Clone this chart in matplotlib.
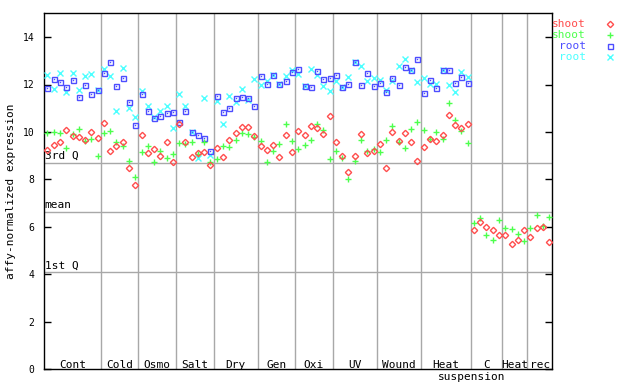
import numpy as np
import matplotlib
matplotlib.use("Agg")
import matplotlib.pyplot as plt

groups = ["Cont", "Cold", "Osmo", "Salt", "Dry", "Gen", "Oxi", "UV", "Wound", "Heat", "C", "Heat", "rec"]
group_sizes = [9, 6, 6, 6, 7, 6, 6, 7, 7, 8, 5, 4, 4]

shoot_a = [9.22, 9.45, 9.57, 10.09, 9.83, 9.78, 9.66, 10.0, 9.76,
           10.37, 9.19, 9.4, 9.57, 8.48, 7.76,
           9.87, 9.11, 9.28, 8.98, 9.57, 8.73,
           10.33, 9.57, 8.94, 9.11, 9.15, 8.6,
           9.32, 8.94, 9.66, 9.95, 10.21, 10.21, 9.83,
           9.4, 9.23, 9.45, 8.94, 9.87, 9.15,
           10.04, 9.87, 10.25, 10.16, 9.91, 10.67,
           9.57, 8.98, 8.31, 8.98, 9.91, 9.11, 9.19,
           9.49, 8.48, 9.99, 9.62, 9.95, 9.57, 8.77,
           9.36, 9.7, 9.62, 9.87, 10.71, 10.29, 10.16, 10.33,
           5.86, 6.2, 5.99, 5.86, 5.65,
           5.65, 5.27, 5.44, 5.86,
           5.57, 5.95, 5.99, 5.36]
shoot_b = [9.95, 9.99, 9.95, 9.32, 9.91, 10.14, 9.62, 9.7, 9.0,
           9.95, 10.04, 9.57, 9.4, 8.77, 8.1,
           9.15, 9.4, 8.73, 9.19, 8.9, 9.07,
           9.53, 9.49, 9.57, 9.07, 9.57, 8.73,
           8.86, 9.4, 9.36, 9.66, 9.95, 9.91, 9.78,
           9.62, 8.73, 9.19, 9.49, 10.33, 9.62,
           9.28, 9.45, 9.66, 10.33, 10.08, 8.86,
           9.19, 8.9, 8.01, 8.77, 9.66, 9.19, 9.28,
           9.15, 9.66, 10.25, 9.57, 9.32, 10.12, 10.42,
           10.08, 9.7, 9.99, 9.7, 11.22, 10.5, 10.04, 9.53,
           6.16, 6.37, 5.65, 5.44, 6.28,
           5.95, 5.9, 5.69, 5.4,
           5.95, 6.49, 6.03, 6.41]
nan = np.nan
root_a = [11.85, 12.23, 12.1, 11.89, 12.19, 11.47, 11.98, 11.6, 11.78,
          12.48, 12.95, 11.94, 12.27, 11.26, 10.29,
          11.6, 10.88, 10.59, 10.67, 10.8, 10.84,
          10.42, 10.88, 9.99, 9.87, 9.74, 9.19,
          11.51, 10.84, 11.01, 11.43, 11.47, 11.43, 11.09,
          12.36, 12.02, 12.4, 12.02, 12.14, 12.53,
          12.65, 11.94, 11.89, 12.57, 12.23, 12.27,
          12.4, 11.89, 12.02, 12.95, 11.98, 12.48, 11.94,
          12.06, 11.68, 12.27, 11.98, 12.74, 12.61, 13.07,
          11.64, 12.19, 11.85, 12.61, 12.61, 12.06, 12.31, 12.06] + [nan] * 13
root_b = [12.41, 11.81, 12.48, 11.67, 12.48, 11.75, 12.36, 12.46, 11.78,
          12.65, 12.36, 10.88, 12.69, 11.01, 10.63,
          11.72, 11.09, 10.63, 10.88, 11.09, 10.16,
          11.6, 11.09, 9.99, 8.9, 11.43, 9.02,
          11.3, 10.33, 11.51, 11.26, 11.81, 11.34, 12.23,
          11.98, 12.14, 12.4, 12.02, 12.36, 12.61,
          12.44, 11.94, 12.65, 12.4, 11.94, 11.72,
          12.14, 11.89, 12.31, 12.95, 12.78, 12.14, 12.27,
          12.19, 11.77, 12.14, 12.78, 13.07, 12.61, 12.1,
          12.27, 12.02, 12.02, 12.61, 11.98, 11.68, 12.53, 12.31] + [nan] * 13

quartiles = {"3rd Q": 8.69, "mean": 6.62, "1st Q": 4.09}

RED, GREEN, BLUE, CYAN = "#ff4d4d", "#4dff4d", "#4d4dff", "#4dffff"
FONT = "DejaVu Sans Mono"

fig = plt.figure(figsize=(6.4, 3.84), dpi=100)
ax = fig.add_axes([44.3 / 640, 1 - 369.3 / 384, 508 / 640, 356 / 384])

x = np.arange(len(shoot_a))
n = len(x)

edges = np.cumsum(group_sizes)
for e in edges[:-1]:
    ax.axvline(e - 0.5, color="#a8a8a8", lw=1, zorder=1)
for name, val in quartiles.items():
    ax.axhline(val, color="#a8a8a8", lw=1, zorder=1)
    ax.text(-0.45, val + 0.08, name, fontsize=8, family=FONT, ha="left", va="bottom")

style = dict(ls="none", mfc="none", mew=1, zorder=3)
ax.plot(x, root_b, marker="x", ms=4, color=CYAN, **style)
ax.plot(x, root_a, marker="s", ms=3.6, color=BLUE, **style)
# little dot in the middle of the root squares
ax.plot(x, root_a, ls="none", marker="s", ms=1, mew=0, color=BLUE, zorder=3)
ax.plot(x, shoot_b, marker="+", ms=5, color=GREEN, **style)
ax.plot(x, shoot_a, marker="D", ms=3.2, color=RED, **style)

starts = edges - np.array(group_sizes)
for name, s, e in zip(groups, starts, edges):
    ax.text((s + e - 1) / 2, 0.013, name, transform=ax.get_xaxis_transform(),
            fontsize=8, family=FONT, ha="center", va="center")
ax.text(edges[9] - 0.5 + 0.1, -0.021, "suspension", transform=ax.get_xaxis_transform(),
        fontsize=8, family=FONT, ha="center", va="center")

ax.set_xlim(-0.5, n - 0.5)
ax.set_ylim(0, 15)
ax.set_xticks([])
ax.set_yticks([0, 2, 4, 6, 8, 10, 12, 14])
ax.tick_params(axis="y", direction="in", length=5, width=1, right=True, pad=7, labelsize=7)
for lab in ax.get_yticklabels():
    lab.set_family(FONT)
for sp in ax.spines.values():
    sp.set_linewidth(1)
ax.set_ylabel("affy-normalized expression", fontsize=8, family=FONT, labelpad=5)

legend = [("shoot", RED, "D", 3.2), ("shoot", GREEN, "+", 5),
          ("root", BLUE, "s", 3.6), ("root", CYAN, "x", 4)]
for i, (lab, col, mk, ms) in enumerate(legend):
    yy = 1 - (23.7 + 11 * i) / 384
    fig.text(586 / 640, yy, lab, color=col, fontsize=8, family=FONT, ha="right", va="center")
    ax.plot([609.5 / 640], [yy], transform=fig.transFigure, marker=mk, ms=ms,
            color=col, clip_on=False, **style)

fig.savefig("out.png", dpi=100)
